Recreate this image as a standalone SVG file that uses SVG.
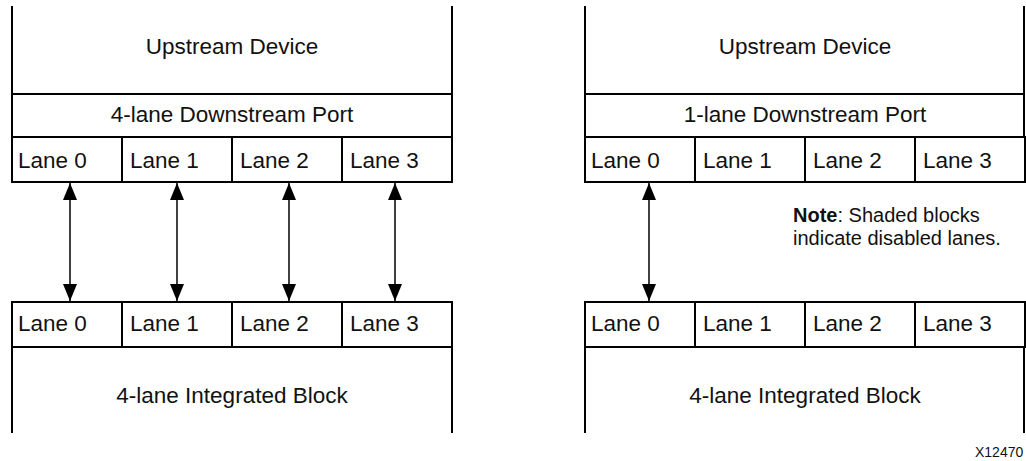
<svg xmlns="http://www.w3.org/2000/svg" width="1026" height="461" viewBox="0 0 1026 461">
  <style>
    .b { fill: none; stroke: #000; stroke-width: 2; }
    .c { fill: #fff; stroke: #000; stroke-width: 2; }
    .t { font-family: "Liberation Sans", Arial, sans-serif; font-size: 22.5px; fill: #111; }
    .m { text-anchor: middle; }
    .n { font-family: "Liberation Sans", Arial, sans-serif; font-size: 20px; fill: #111; }
    .a { stroke: #000; stroke-width: 1.5; fill: none; }
  </style>
  <defs>
    <marker id="ah" markerUnits="userSpaceOnUse" markerWidth="18" markerHeight="14" viewBox="0 0 18 14" refX="17" refY="7" orient="auto-start-reverse">
      <path d="M0,0 L17,7 L0,14 Z" fill="#000"/>
    </marker>
  </defs>
  <rect width="1026" height="461" fill="#fff"/>

  <g id="left-upstream">
    <path class="b" d="M12,6 V94 M452,6 V94"/>
    <text class="t m" x="232" y="54">Upstream Device</text>
  </g>
  <g id="left-downstream-port">
    <rect class="c" x="12" y="94" width="440" height="43"/>
    <text class="t m" x="232" y="122">4-lane Downstream Port</text>
  </g>
  <g id="left-top-lanes">
    <rect class="c" x="12" y="137" width="110" height="45"/>
    <rect class="c" x="122" y="137" width="110" height="45"/>
    <rect class="c" x="232" y="137" width="110" height="45"/>
    <rect class="c" x="342" y="137" width="110" height="45"/>
    <text class="t" x="18" y="168">Lane 0</text>
    <text class="t" x="130" y="168">Lane 1</text>
    <text class="t" x="240" y="168">Lane 2</text>
    <text class="t" x="350" y="168">Lane 3</text>
  </g>
  <g id="left-bottom-lanes">
    <rect class="c" x="12" y="302" width="110" height="45"/>
    <rect class="c" x="122" y="302" width="110" height="45"/>
    <rect class="c" x="232" y="302" width="110" height="45"/>
    <rect class="c" x="342" y="302" width="110" height="45"/>
    <text class="t" x="18" y="331">Lane 0</text>
    <text class="t" x="130" y="331">Lane 1</text>
    <text class="t" x="240" y="331">Lane 2</text>
    <text class="t" x="350" y="331">Lane 3</text>
  </g>
  <g id="left-integrated-block">
    <path class="b" d="M12,347 V433 M452,347 V433"/>
    <text class="t m" x="232" y="403">4-lane Integrated Block</text>
  </g>

  <g id="right-upstream">
    <path class="b" d="M585,6 V94 M1024,6 V94"/>
    <text class="t m" x="805" y="54">Upstream Device</text>
  </g>
  <g id="right-downstream-port">
    <rect class="c" x="585" y="94" width="439" height="43"/>
    <text class="t m" x="805" y="122">1-lane Downstream Port</text>
  </g>
  <g id="right-top-lanes">
    <rect class="c" x="585" y="137" width="110" height="45"/>
    <rect class="c" x="695" y="137" width="110" height="45"/>
    <rect class="c" x="805" y="137" width="110" height="45"/>
    <rect class="c" x="915" y="137" width="110" height="45"/>
    <text class="t" x="591" y="168">Lane 0</text>
    <text class="t" x="703" y="168">Lane 1</text>
    <text class="t" x="813" y="168">Lane 2</text>
    <text class="t" x="923" y="168">Lane 3</text>
  </g>
  <g id="right-bottom-lanes">
    <rect class="c" x="585" y="302" width="110" height="45"/>
    <rect class="c" x="695" y="302" width="110" height="45"/>
    <rect class="c" x="805" y="302" width="110" height="45"/>
    <rect class="c" x="915" y="302" width="110" height="45"/>
    <text class="t" x="591" y="331">Lane 0</text>
    <text class="t" x="703" y="331">Lane 1</text>
    <text class="t" x="813" y="331">Lane 2</text>
    <text class="t" x="923" y="331">Lane 3</text>
  </g>
  <g id="right-integrated-block">
    <path class="b" d="M585,347 V433 M1024,347 V433"/>
    <text class="t m" x="805" y="403">4-lane Integrated Block</text>
  </g>

  <g id="connectors">
    <line class="a" x1="70" y1="183" x2="70" y2="301" marker-start="url(#ah)" marker-end="url(#ah)"/>
    <line class="a" x1="177" y1="183" x2="177" y2="301" marker-start="url(#ah)" marker-end="url(#ah)"/>
    <line class="a" x1="289" y1="183" x2="289" y2="301" marker-start="url(#ah)" marker-end="url(#ah)"/>
    <line class="a" x1="395" y1="183" x2="395" y2="301" marker-start="url(#ah)" marker-end="url(#ah)"/>
    <line class="a" x1="649" y1="183" x2="649" y2="301" marker-start="url(#ah)" marker-end="url(#ah)"/>
  </g>

  <g id="note">
    <text class="n" x="793" y="222"><tspan font-weight="bold">Note</tspan>: Shaded blocks</text>
    <text class="n" x="793" y="245">indicate disabled lanes.</text>
  </g>
  <text id="figure-id" font-family="Liberation Sans, Arial, sans-serif" font-size="14" fill="#111" x="975" y="457">X12470</text>
</svg>
